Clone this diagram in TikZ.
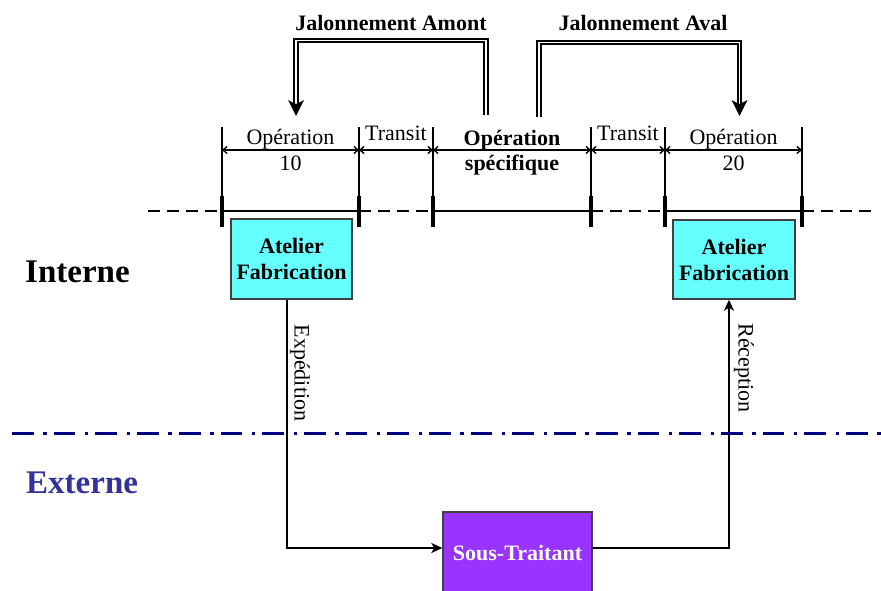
\documentclass[tikz,border=0pt]{standalone}
\usepackage{fontspec}
\setmainfont{Liberation Serif}
\usetikzlibrary{arrows.meta}
\definecolor{cyanbox}{HTML}{66FFFF}
\definecolor{purplebox}{HTML}{9933FF}
\definecolor{navyline}{HTML}{000080}
\definecolor{extcol}{HTML}{333399}
\definecolor{boxborder}{HTML}{404040}
\tikzset{
  txt/.style={font=\fontsize{22}{26}\selectfont, inner sep=0pt},
  btxt/.style={font=\fontsize{22}{26}\selectfont\bfseries, inner sep=0pt},
  big/.style={font=\fontsize{33}{38}\selectfont\bfseries, inner sep=0pt},
  box/.style={draw=boxborder, line width=1.4pt, align=center, inner sep=0pt,
              font=\fontsize{22}{26}\selectfont\bfseries},
  dimline/.style={line width=1.4pt,
     {Straight Barb[length=4pt,width=7pt]}-{Straight Barb[length=4pt,width=7pt]}},
  guide/.style={line width=1.2pt},
  tick/.style={line width=4pt},
  solidseg/.style={line width=2.8pt},
  dashseg/.style={line width=2.8pt, dash pattern=on 12pt off 7pt},
  connarrow/.style={line width=2.5pt, -{Stealth[length=11pt,width=10pt,inset=3pt]}},
  dbl/.style={line width=1.8pt, double=white, double distance=1.8pt},
  border/.style={line width=3pt, draw=navyline,
     dash pattern=on 21.7pt off 9.6pt on 3.4pt off 7pt}
}
\begin{document}
\begin{tikzpicture}[x=1pt,y=-1pt]
\useasboundingbox (0,0) rectangle (881,590);

% ---- timeline ticks coordinates
\coordinate (t1) at (222,211);
\coordinate (t2) at (359,211);
\coordinate (t3) at (433,211);
\coordinate (t4) at (591,211);
\coordinate (t5) at (665,211);
\coordinate (t6) at (802,211);
\coordinate (tl) at (148,211);
\coordinate (tr) at (872,211);

% guides above ticks
\foreach \t in {t1,t2,t3,t4,t5,t6}{
  \draw[guide] (\t) -- ++(0,-84);
}
% dimension arrows
\foreach \a/\b in {t1/t2,t2/t3,t3/t4,t4/t5,t5/t6}{
  \draw[dimline] ([yshift=61pt]\a) -- ([yshift=61pt]\b);
}

% timeline
\draw[dashseg] (tl) -- (t1);
\draw[solidseg] (t1) -- (t2);
\draw[dashseg] (t2) -- (t3);
\draw[solidseg] (t3) -- (t4);
\draw[dashseg] (t4) -- (t5);
\draw[solidseg] (t5) -- (t6);
\draw[dashseg] (t6) -- (tr);
\foreach \t in {t1,t2,t3,t4,t5,t6}{
  \draw[tick] ([yshift=15pt]\t) -- ([yshift=-16pt]\t);
}

% labels of durations
\node[txt, anchor=base] (op10a) at (290.5,144) {Opération};
\node[txt, anchor=base] (op10b) at (290.5,170) {10};
\node[txt, anchor=base] (tr1) at (396,140) {Transit};
\node[btxt, anchor=base] (opsa) at (512,145) {Opération};
\node[btxt, anchor=base] (opsb) at (512,170) {spécifique};
\node[txt, anchor=base] (tr2) at (628,140) {Transit};
\node[txt, anchor=base] (op20a) at (733.5,144) {Opération};
\node[txt, anchor=base] (op20b) at (733.5,170) {20};

% ---- Jalonnement arrows
\node[btxt, anchor=base] (jam) at (391,30) {Jalonnement Amont};
\node[btxt, anchor=base] (jav) at (643,30) {Jalonnement Aval};

\coordinate (a1) at (486,115);
\coordinate (a2) at (486,40.5);
\coordinate (a3) at (296,40.5);
\coordinate (a4) at (296,104);
\draw[dbl] (a1) -- (a2) -- (a3) -- (a4);
\fill (296,116) -- (288,100) -- (296,104) -- (304,100) -- cycle;

\coordinate (b1) at (539,117);
\coordinate (b2) at (539,42.5);
\coordinate (b3) at (739.5,42.5);
\coordinate (b4) at (739.5,104);
\draw[dbl] (b1) -- (b2) -- (b3) -- (b4);
\fill (739.5,116) -- (731.5,100) -- (739.5,104) -- (747.5,100) -- cycle;

% ---- zones
\node[big, anchor=base west] (int) at (25,282) {Interne};
\node[big, anchor=base west, text=extcol] (ext) at (26,493) {Externe};
\coordinate (bl) at (12,433);
\coordinate (br) at (881,433);

% ---- boxes
\node[box, fill=cyanbox, minimum width=121pt, minimum height=80pt] (lb) at (291.5,259) {Atelier\\Fabrication};
\node[box, fill=cyanbox, minimum width=122pt, minimum height=79pt] (rb) at (734,259.5) {Atelier\\Fabrication};
\node[box, fill=purplebox, text=white, minimum width=149pt, minimum height=82pt] (st) at (517.5,553) {Sous-Traitant};

% ---- connectors
\coordinate (ex) at (287,0);
\coordinate (rx) at (729,0);
\coordinate (hy) at (0,548);
\draw[connarrow] (lb.south -| ex) |- (st.west |- hy);
\draw[connarrow] (st.east |- hy) -| (rb.south -| rx);

\node[txt, rotate=-90] (lexp) at (300,373) {Expédition};
\node[txt, rotate=-90] (lrec) at (744,368) {Réception};

% boundary line (drawn over connectors)
\draw[border] (bl) -- (br);
\end{tikzpicture}
\end{document}
